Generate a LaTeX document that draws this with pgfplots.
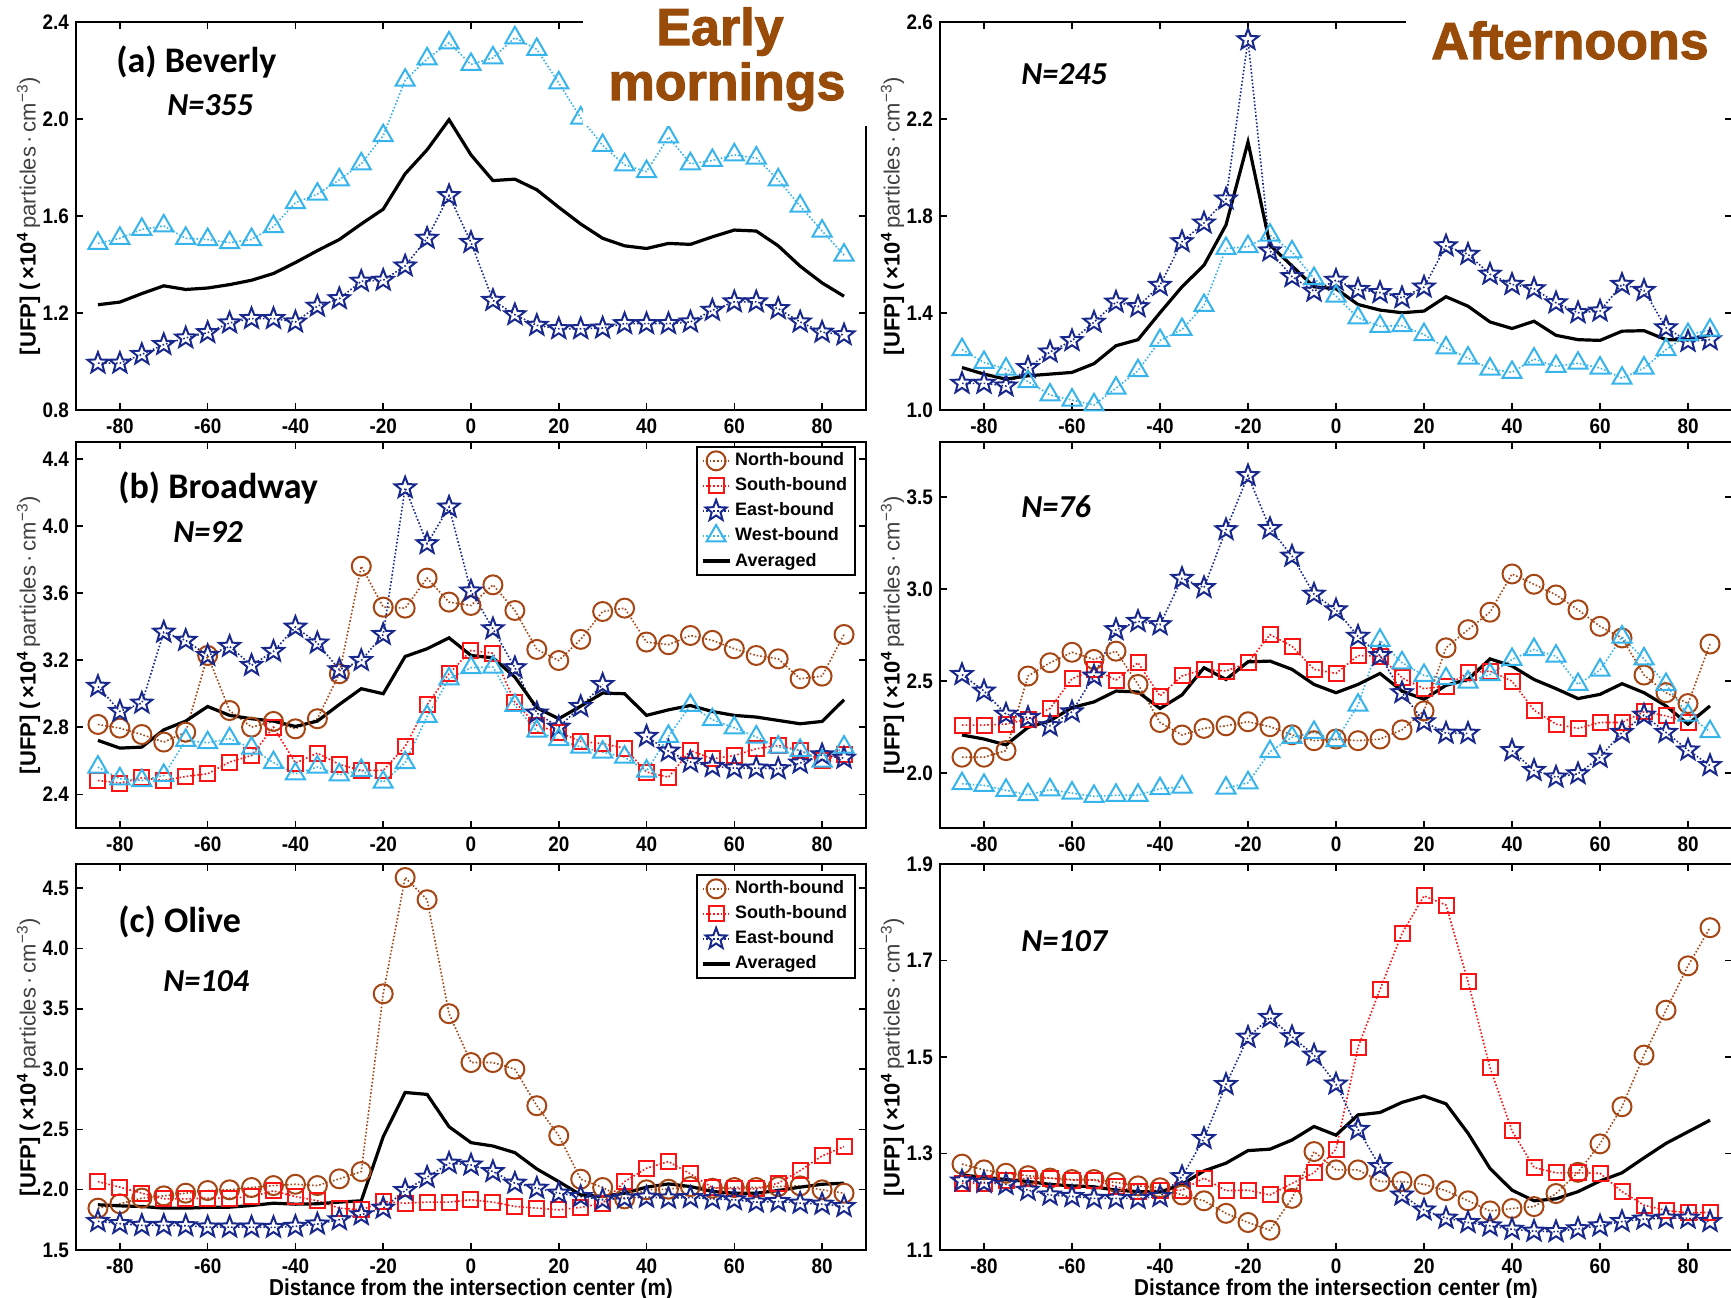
\documentclass[border=0pt]{standalone}
\usepackage{fontspec}
\usepackage{pgfplots}
\pgfplotsset{compat=1.18}
\usepackage{pgfplotstable}
\setmainfont{Liberation Sans}
\newfontfamily\tickfont{Liberation Sans}[FakeStretch=0.9]
\newfontfamily\calib{Carlito}
\newfontfamily\heavy{Liberation Sans}[BoldFeatures={FakeBold=2}]

\definecolor{nbrown}{RGB}{165,70,20}
\definecolor{sred}{RGB}{250,20,20}
\definecolor{enavy}{RGB}{25,40,140}
\definecolor{wblue}{RGB}{55,180,235}
\definecolor{titlebrown}{RGB}{153,76,9}

% hollow five-pointed star marker
\pgfdeclareplotmark{ostar}{%
  \pgfpathmoveto{\pgfpointpolar{90}{\pgfplotmarksize}}%
  \pgfpathlineto{\pgfpointpolar{126}{0.42\pgfplotmarksize}}%
  \pgfpathlineto{\pgfpointpolar{162}{\pgfplotmarksize}}%
  \pgfpathlineto{\pgfpointpolar{198}{0.42\pgfplotmarksize}}%
  \pgfpathlineto{\pgfpointpolar{234}{\pgfplotmarksize}}%
  \pgfpathlineto{\pgfpointpolar{270}{0.42\pgfplotmarksize}}%
  \pgfpathlineto{\pgfpointpolar{306}{\pgfplotmarksize}}%
  \pgfpathlineto{\pgfpointpolar{342}{0.42\pgfplotmarksize}}%
  \pgfpathlineto{\pgfpointpolar{18}{\pgfplotmarksize}}%
  \pgfpathlineto{\pgfpointpolar{54}{0.42\pgfplotmarksize}}%
  \pgfpathclose\pgfusepathqstroke}

% Beverly, early mornings: x, East-bound, West-bound, averaged
\pgfplotstableread{
x E W A
-85 0.993 1.487 1.234
-80 0.993 1.508 1.245
-75 1.029 1.545 1.280
-70 1.070 1.559 1.312
-65 1.097 1.508 1.297
-60 1.119 1.503 1.303
-55 1.159 1.490 1.317
-50 1.177 1.503 1.335
-45 1.177 1.556 1.363
-40 1.163 1.655 1.408
-35 1.228 1.690 1.457
-30 1.259 1.749 1.503
-25 1.331 1.815 1.567
-20 1.335 1.931 1.628
-15 1.394 2.160 1.774
-10 1.508 2.248 1.873
-5 1.684 2.314 1.997
0 1.491 2.225 1.852
5 1.252 2.252 1.746
10 1.193 2.335 1.752
15 1.149 2.287 1.708
20 1.135 2.149 1.636
25 1.135 2.004 1.567
30 1.138 1.891 1.508
35 1.156 1.811 1.477
40 1.156 1.783 1.466
45 1.156 1.926 1.487
50 1.163 1.815 1.483
55 1.211 1.829 1.514
60 1.246 1.852 1.542
65 1.246 1.839 1.538
70 1.218 1.749 1.477
75 1.163 1.641 1.393
80 1.121 1.538 1.324
85 1.110 1.439 1.269
}\tabaM

% Beverly, afternoons
\pgfplotstableread{
x E W A
-85 1.110 1.249 1.175
-80 1.110 1.196 1.148
-75 1.099 1.169 1.127
-70 1.175 1.117 1.141
-65 1.239 1.062 1.148
-60 1.286 1.041 1.155
-55 1.362 1.021 1.191
-50 1.445 1.090 1.265
-45 1.426 1.162 1.290
-40 1.514 1.287 1.401
-35 1.694 1.332 1.508
-30 1.771 1.431 1.597
-25 1.870 1.666 1.763
-20 2.527 1.674 2.105
-15 1.656 1.721 1.680
-10 1.550 1.652 1.594
-5 1.490 1.542 1.508
0 1.535 1.470 1.500
5 1.497 1.380 1.435
10 1.484 1.345 1.412
15 1.463 1.348 1.401
20 1.507 1.311 1.408
25 1.677 1.256 1.467
30 1.642 1.214 1.428
35 1.560 1.169 1.363
40 1.518 1.155 1.336
45 1.500 1.210 1.366
50 1.442 1.180 1.308
55 1.401 1.193 1.290
60 1.408 1.173 1.287
65 1.518 1.131 1.325
70 1.493 1.173 1.327
75 1.339 1.249 1.290
80 1.283 1.311 1.290
85 1.290 1.329 1.308
}\tabaA

% Broadway, early mornings: North, South, East, West, averaged
\pgfplotstableread{
x N S E W A
-85 2.817 2.483 3.044 2.563 2.722
-80 2.795 2.468 2.895 2.493 2.676
-75 2.757 2.499 2.944 2.483 2.682
-70 2.712 2.483 3.367 2.513 2.785
-65 2.771 2.507 3.318 2.722 2.837
-60 3.228 2.523 3.228 2.708 2.924
-55 2.900 2.593 3.282 2.732 2.871
-50 2.801 2.632 3.169 2.676 2.851
-45 2.835 2.801 3.252 2.589 2.837
-40 2.791 2.587 3.397 2.523 2.805
-35 2.851 2.646 3.302 2.563 2.837
-30 3.119 2.579 3.143 2.517 2.936
-25 3.760 2.543 3.198 2.543 3.030
-20 3.516 2.543 3.353 2.473 3.000
-15 3.510 2.686 4.227 2.589 3.222
-10 3.689 2.934 3.894 2.865 3.268
-5 3.546 3.119 4.112 3.089 3.333
0 3.526 3.258 3.612 3.155 3.228
5 3.649 3.242 3.387 3.159 3.214
10 3.496 2.950 3.155 2.930 3.099
15 3.264 2.811 2.885 2.777 2.916
20 3.198 2.771 2.801 2.726 2.851
25 3.324 2.716 2.924 2.682 2.926
30 3.490 2.702 3.055 2.652 3.004
35 3.510 2.676 nan 2.622 3.000
40 3.308 2.533 2.746 2.539 2.871
45 3.292 2.503 2.658 2.746 2.904
50 3.347 2.662 2.593 2.930 2.930
55 3.318 2.612 2.567 2.845 2.894
60 3.268 2.632 2.557 2.797 2.871
65 3.228 2.672 2.557 2.742 2.861
70 3.208 2.692 2.553 2.682 2.841
75 3.089 2.662 2.587 2.662 2.821
80 3.105 2.603 2.636 2.599 2.835
85 3.353 2.640 2.616 2.682 2.964
}\tabbM

% Broadway, afternoons
\pgfplotstableread{
x N S E W A
-85 2.085 2.260 2.535 1.941 2.206
-80 2.085 2.260 2.445 1.932 2.184
-75 2.121 2.265 2.319 1.905 2.152
-70 2.527 2.292 2.301 1.881 2.247
-65 2.599 2.350 2.256 1.908 2.283
-60 2.656 2.512 2.332 1.890 2.355
-55 2.617 2.563 2.527 1.872 2.386
-50 2.662 2.505 2.779 1.878 2.445
-45 2.481 2.599 2.824 1.878 2.440
-40 2.274 2.418 2.806 1.914 2.350
-35 2.206 2.527 3.058 1.923 2.424
-30 2.242 2.563 3.008 nan 2.572
-25 2.256 2.554 3.323 1.917 2.508
-20 2.278 2.599 3.617 1.946 2.604
-15 2.251 2.752 3.329 2.115 2.608
-10 2.207 2.689 3.179 2.193 2.563
-5 2.175 2.563 2.972 2.220 2.481
0 2.184 2.541 2.887 2.175 2.436
5 2.175 2.638 2.743 2.368 2.481
10 2.184 2.635 2.638 2.721 2.541
15 2.234 2.517 2.436 2.599 2.445
20 2.337 2.458 2.278 2.530 2.400
25 2.680 2.472 2.216 2.512 2.476
30 2.779 2.544 2.215 2.494 2.508
35 2.874 2.554 nan 2.535 2.620
40 3.082 2.499 2.121 2.617 2.581
45 3.026 2.341 2.013 2.671 2.508
50 2.968 2.265 1.977 2.635 2.458
55 2.887 2.242 1.995 2.481 2.404
60 2.797 2.274 2.085 2.559 2.427
65 2.734 2.274 2.220 2.739 2.485
70 2.532 2.332 2.314 2.620 2.436
75 2.436 2.310 2.220 2.481 2.364
80 2.377 2.274 2.124 2.314 2.265
85 2.701 nan 2.040 2.224 2.364
}\tabbA

% Olive, early mornings: North, South, East, averaged
\pgfplotstableread{
x N S E A
-85 1.847 2.067 1.737 1.875
-80 1.883 2.021 1.718 1.866
-75 1.930 1.971 1.704 1.861
-70 1.949 1.924 1.704 1.847
-65 1.971 1.924 1.701 1.847
-60 1.993 1.930 1.690 1.853
-55 1.999 1.930 1.690 1.855
-50 2.018 1.943 1.690 1.869
-45 2.034 1.990 1.687 1.888
-40 2.045 1.943 1.696 1.880
-35 2.034 1.908 1.715 1.883
-30 2.090 1.847 1.751 1.897
-25 2.150 1.833 1.792 1.908
-20 3.624 1.902 1.847 2.439
-15 4.588 1.888 1.993 2.806
-10 4.404 1.897 2.103 2.790
-5 3.459 1.897 2.219 2.522
0 3.054 1.916 2.205 2.390
5 3.054 1.897 2.150 2.362
10 2.999 1.861 2.054 2.307
15 2.696 1.847 2.012 2.172
20 2.448 1.833 1.971 2.067
25 2.087 1.853 1.943 1.957
30 2.018 1.888 1.916 1.943
35 1.924 2.067 1.930 1.971
40 1.999 2.178 1.938 2.021
45 2.004 2.233 1.930 2.048
50 2.026 2.131 1.935 2.026
55 2.012 2.018 1.924 1.985
60 2.018 2.007 1.916 1.971
65 2.018 2.007 1.897 1.971
70 2.026 2.054 1.902 1.993
75 2.032 2.158 1.888 2.021
80 1.999 2.280 1.880 2.045
85 1.971 2.357 1.861 2.054
}\tabcM

% Olive, afternoons
\pgfplotstableread{
x N S E A
-85 1.278 1.238 1.243 1.255
-80 1.266 1.238 1.240 1.251
-75 1.259 1.244 1.236 1.246
-70 1.254 1.249 1.224 1.242
-65 1.249 1.249 1.214 1.236
-60 1.246 1.245 1.211 1.233
-55 1.246 1.245 1.207 1.231
-50 1.240 1.231 1.207 1.224
-45 1.233 1.221 1.207 1.221
-40 1.229 1.224 1.211 1.220
-35 1.214 1.224 1.252 1.236
-30 1.202 1.249 1.331 1.264
-25 1.176 1.223 1.443 1.280
-20 1.157 1.224 1.541 1.306
-15 1.141 1.214 1.582 1.309
-10 1.207 1.238 1.542 1.328
-5 1.304 1.260 1.504 1.356
0 1.266 1.309 1.444 1.338
5 1.266 1.520 1.350 1.380
10 1.242 1.640 1.273 1.385
15 1.242 1.756 1.214 1.406
20 1.236 1.834 1.183 1.419
25 1.223 1.815 1.166 1.403
30 1.202 1.656 1.157 1.342
35 1.181 1.478 1.150 1.269
40 1.186 1.347 1.143 1.224
45 1.190 1.271 1.139 1.202
50 1.217 1.260 1.138 1.206
55 1.261 1.260 1.144 1.221
60 1.320 1.259 1.150 1.243
65 1.397 1.221 1.159 1.260
70 1.504 1.193 1.164 1.291
75 1.597 1.182 1.166 1.321
80 1.689 1.177 1.166 1.345
85 1.768 1.178 1.159 1.369
}\tabcA

\newcommand{\ufplabel}{{\bfseries [UFP] (\,×10\textsuperscript{4}}\,{\color{black!75}particles\,·\,cm\textsuperscript{−3})}}

\pgfplotsset{
  panel/.style={
    scale only axis, width=395pt, height=193pt,
    xmin=-90, xmax=90,
    xtick={-80,-60,...,80},
    xticklabels={-80,-60,-40,-20,0,20,40,60,80},
    tick align=inside, major tick length=3.5pt,
    tick style={black, line width=0.8pt},
    axis line style={line width=1pt},
    tick label style={font=\tickfont\bfseries\fontsize{10.5}{12}\selectfont},
    xticklabel style={yshift=-1pt},
    unbounded coords=jump,
    ylabel={\ufplabel},
    ylabel style={at={(axis description cs:-0.06,0.5)}, anchor=center,
      font=\fontsize{11}{13}\selectfont},
    legend cell align=left,
    legend image code/.code={%
      \draw[mark repeat=2,mark phase=2] plot coordinates {(0pt,0pt)(6.75pt,0pt)(13.5pt,0pt)};},
    legend style={at={(rel axis cs:1,1)}, anchor=north east,
      draw=black, line width=0.8pt, inner xsep=2pt, inner ysep=1pt,
      row sep=0.5pt,
      font=\bfseries\fontsize{9}{10.5}\selectfont},
  },
  xlab/.style={
    xlabel={Distance from the intersection center (m)},
    xlabel style={at={(axis description cs:0.5,0)}, anchor=base, yshift=-22.5pt,
      font=\tickfont\bfseries\fontsize{11.5}{13}\selectfont}},
  nb/.style={color=nbrown, densely dotted, line width=0.8pt, mark=o, mark size=4.75pt,
    mark options={solid, line width=1pt}},
  sb/.style={color=sred, densely dotted, line width=0.8pt, mark=square, mark size=3.75pt,
    mark options={solid, line width=1pt}},
  eb/.style={color=enavy, densely dotted, line width=0.8pt, mark=ostar, mark size=5.5pt,
    mark options={solid, line width=1pt}},
  wb/.style={color=wblue, densely dotted, line width=0.8pt, mark=triangle, mark size=5.5pt,
    mark options={solid, line width=1pt}},
  av/.style={black, solid, line width=1.6pt, no marks},
}

\begin{document}
\begin{tikzpicture}
\useasboundingbox (0,0) rectangle (865.5pt,648.5pt);

% ---- Beverly, early mornings
\begin{axis}[panel, at={(38pt,443.5pt)}, anchor=south west, height=194pt,
  ymin=0.8, ymax=2.4, ytick={0.8,1.2,1.6,2.0,2.4},
  yticklabels={0.8,1.2,1.6,2.0,2.4}]
\addplot[eb] table[x=x,y=E]{\tabaM};
\addplot[wb] table[x=x,y=W]{\tabaM};
\addplot[av] table[x=x,y=A]{\tabaM};
\end{axis}

% ---- Beverly, afternoons
\begin{axis}[panel, at={(470pt,443.5pt)}, anchor=south west, width=396pt, height=194pt,
  ymin=1.0, ymax=2.6, ytick={1.0,1.4,1.8,2.2,2.6},
  yticklabels={1.0,1.4,1.8,2.2,2.6}]
\addplot[eb] table[x=x,y=E]{\tabaA};
\addplot[wb] table[x=x,y=W]{\tabaA};
\addplot[av] table[x=x,y=A]{\tabaA};
\end{axis}

% ---- Broadway, early mornings
\begin{axis}[panel, at={(38pt,234.5pt)}, anchor=south west,
  ymin=2.2, ymax=4.5, ytick={2.4,2.8,3.2,3.6,4.0,4.4},
  yticklabels={2.4,2.8,3.2,3.6,4.0,4.4},
  legend style={xshift=-5pt, yshift=-2pt}]
\addplot[nb] table[x=x,y=N]{\tabbM};
\addplot[sb] table[x=x,y=S]{\tabbM};
\addplot[eb] table[x=x,y=E]{\tabbM};
\addplot[wb] table[x=x,y=W]{\tabbM};
\addplot[av] table[x=x,y=A]{\tabbM};
\legend{North-bound,South-bound,East-bound,West-bound,Averaged}
\end{axis}

% ---- Broadway, afternoons
\begin{axis}[panel, at={(470pt,234.5pt)}, anchor=south west, width=396pt,
  ymin=1.7, ymax=3.8, ytick={2.0,2.5,3.0,3.5},
  yticklabels={2.0,2.5,3.0,3.5}]
\addplot[nb] table[x=x,y=N]{\tabbA};
\addplot[sb] table[x=x,y=S]{\tabbA};
\addplot[eb] table[x=x,y=E]{\tabbA};
\addplot[wb] table[x=x,y=W]{\tabbA};
\addplot[av] table[x=x,y=A]{\tabbA};
\end{axis}

% ---- Olive, early mornings
\begin{axis}[panel, xlab, at={(38pt,23.5pt)}, anchor=south west,
  ymin=1.5, ymax=4.7, ytick={1.5,2.0,2.5,3.0,3.5,4.0,4.5},
  yticklabels={1.5,2.0,2.5,3.0,3.5,4.0,4.5},
  legend style={xshift=-5pt, yshift=-5pt}]
\addplot[nb] table[x=x,y=N]{\tabcM};
\addplot[sb] table[x=x,y=S]{\tabcM};
\addplot[eb] table[x=x,y=E]{\tabcM};
\addplot[av] table[x=x,y=A]{\tabcM};
\legend{North-bound,South-bound,East-bound,Averaged}
\end{axis}

% ---- Olive, afternoons
\begin{axis}[panel, xlab, at={(470pt,23.5pt)}, anchor=south west, width=396pt,
  ymin=1.1, ymax=1.9, ytick={1.1,1.3,1.5,1.7,1.9},
  yticklabels={1.1,1.3,1.5,1.7,1.9}]
\addplot[nb] table[x=x,y=N]{\tabcA};
\addplot[sb] table[x=x,y=S]{\tabcA};
\addplot[eb] table[x=x,y=E]{\tabcA};
\addplot[av] table[x=x,y=A]{\tabcA};
\end{axis}

% headline blocks over the upper frames
\fill[white] (291.5pt,585.5pt) rectangle (435pt,650pt);
\fill[white] (703pt,594.5pt) rectangle (870pt,650pt);
\begin{scope}[every node/.style={text=titlebrown, font=\heavy\bfseries\fontsize{26}{30}\selectfont, inner sep=0pt}]
\node[anchor=base] at (360pt,626pt) {Early};
\node[anchor=base] at (363.5pt,598.5pt) {mornings};
\node[anchor=base] at (785pt,619pt) {Afternoons};
\end{scope}

% site names and sample sizes
\begin{scope}[every node/.style={anchor=west, inner sep=0pt}]
\node[font=\calib\bfseries\fontsize{18}{20}\selectfont] at (58pt,617.5pt) {(a) Beverly};
\node[font=\calib\bfseries\itshape\fontsize{16}{18}\selectfont] at (83.5pt,596pt) {N=355};
\node[font=\calib\bfseries\itshape\fontsize{16}{18}\selectfont] at (510.5pt,611.5pt) {N=245};
\node[font=\calib\bfseries\fontsize{18}{20}\selectfont] at (59pt,404.5pt) {(b) Broadway};
\node[font=\calib\bfseries\itshape\fontsize{16}{18}\selectfont] at (86.5pt,382.5pt) {N=92};
\node[font=\calib\bfseries\itshape\fontsize{16}{18}\selectfont] at (510.5pt,395pt) {N=76};
\node[font=\calib\bfseries\fontsize{18}{20}\selectfont] at (59pt,187.5pt) {(c) Olive};
\node[font=\calib\bfseries\itshape\fontsize{16}{18}\selectfont] at (81.5pt,158pt) {N=104};
\node[font=\calib\bfseries\itshape\fontsize{16}{18}\selectfont] at (510.5pt,178pt) {N=107};
\end{scope}
\end{tikzpicture}
\end{document}
